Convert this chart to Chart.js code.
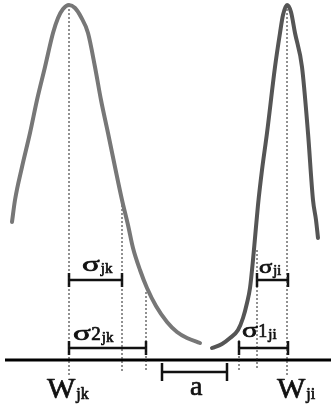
<!DOCTYPE html>
<html>
<head>
<meta charset="utf-8">
<script src="https://cdn.jsdelivr.net/npm/chart.js@4"></script>
<style>
html,body{margin:0;padding:0;background:#fff;}
#wrap{width:331px;height:410px;position:relative;}
</style>
</head>
<body>
<div id="wrap"><canvas id="c"></canvas></div>
<script>
// Left distribution curve (W_jk)
const leftX = [12,15,22,30,37,45,53,58,63,69,75,81,88,95,101,108,115,122,128,133,140,147,156,167,177,187,200];
const leftY = [138,160,193,227,260,293,327,342,351,355,352,343,327,293,260,227,193,160,135,112,90,72,54,38,28,22,17];
// Right distribution curve (W_ji)
const rightX = [212,222,230,238,243,247,250,253,255,258,262,267,275,280,283,287,291,295,302,308,313,316,318];
const rightY = [12,16,22,30,42,57,72,100,122,155,190,227,293,327,345,355,348,327,293,227,160,140,122];
// Dotted guide lines: x, top, bottom
const guideX = [69,122,146,239,257,287];
const guideTop = [355,155,68,20,110,355];
const guideBottom = [-15,-12,-12,-12,-10,-15];
// Bracket intervals: start, end, level
const bracketStart = [69,69,257,239,162];
const bracketEnd = [122,146,288,288,227];
const bracketLevel = [80,12,80,12,-12];
// Labels: symbol, extra glyphs, subscript, anchor
const labelSym = ['σ','σ','σ','σ','W','a','W'];
const labelRest = ['','2','','1','','',''];
const labelSub = ['jk','jk','ji','ji','jk','','ji'];
const labelX = [82,73,259,242,47,190,277];
const labelY = [89,20,87,23,-38,-35,-38];

const labelSize = [22,22,19,21,30,28,30];
const labelStretch = [1.5,1.5,1.3,1.4,1,1,1];
const subSize = [15,15,14,15,16,0,16];

function pts(xs, ys){ return xs.map((x,i)=>({x:x,y:ys[i]})); }
const guidePts = [];
guideX.forEach((x,i)=>{ guidePts.push({x:x,y:guideTop[i]},{x:x,y:guideBottom[i]},{x:x,y:null}); });
const bracketPts = [];
bracketStart.forEach((s,i)=>{
  const e = bracketEnd[i], l = bracketLevel[i], c = (i===4)?9:7;
  bracketPts.push({x:s,y:l+c},{x:s,y:l-c},{x:s,y:null},
                  {x:s,y:l},{x:e,y:l},{x:e,y:null},
                  {x:e,y:l+c},{x:e,y:l-c},{x:e,y:null});
});

const FONT = '"Liberation Serif", "Times New Roman", serif';
function txt(ctx, s, x, y){ ctx.strokeText(s, x, y); ctx.fillText(s, x, y); }
const textPlugin = {
  id:'labels',
  afterDatasetsDraw(chart){
    const ctx = chart.ctx, xs = chart.scales.x, ys = chart.scales.y;
    ctx.save();
    ctx.fillStyle = '#111';
    ctx.strokeStyle = '#111';
    ctx.lineWidth = 0.7;
    ctx.lineJoin = 'round';
    ctx.textBaseline = 'alphabetic';
    ctx.textAlign = 'left';
    labelSym.forEach((m,i)=>{
      let px = xs.getPixelForValue(labelX[i]);
      const py = ys.getPixelForValue(labelY[i]);
      const sz = labelSize[i], sx = labelStretch[i];
      ctx.font = sz + 'px ' + FONT;
      ctx.save();
      ctx.translate(px, py);
      ctx.scale(sx, 1);
      txt(ctx, m, 0, 0);
      ctx.restore();
      px += ctx.measureText(m).width * sx;
      if (labelRest[i]) {
        ctx.font = (sz - 3) + 'px ' + FONT;
        txt(ctx, labelRest[i], px + 0.5, py);
        px += ctx.measureText(labelRest[i]).width + 0.5;
      }
      if (labelSub[i]) {
        ctx.font = subSize[i] + 'px ' + FONT;
        txt(ctx, labelSub[i], px + 1, py + (sz > 24 ? 1 : 2));
      }
    });
    ctx.restore();
  }
};

new Chart(document.getElementById('c'), {
  type:'line',
  data:{
    datasets:[
      {data:pts(leftX,leftY), borderColor:'#777', borderWidth:4, pointRadius:0, cubicInterpolationMode:'monotone', borderCapStyle:'round', borderJoinStyle:'round'},
      {data:pts(rightX,rightY), borderColor:'#555', borderWidth:4, pointRadius:0, cubicInterpolationMode:'monotone', borderCapStyle:'round', borderJoinStyle:'round'},
      {data:guidePts, borderColor:'#222', borderWidth:1, borderDash:[2,2], pointRadius:0, spanGaps:false},
      {data:bracketPts, borderColor:'#111', borderWidth:2.5, pointRadius:0, spanGaps:false},
      {data:[{x:5,y:0},{x:331,y:0}], borderColor:'#000', borderWidth:3, pointRadius:0}
    ]
  },
  options:{
    responsive:true, maintainAspectRatio:false, animation:false,
    layout:{padding:0},
    plugins:{legend:{display:false}, tooltip:{enabled:false}, title:{display:false}},
    scales:{
      x:{type:'linear', min:0, max:331, display:false},
      y:{type:'linear', min:-50, max:360, display:false}
    }
  },
  plugins:[textPlugin]
});
</script>
</body>
</html>
